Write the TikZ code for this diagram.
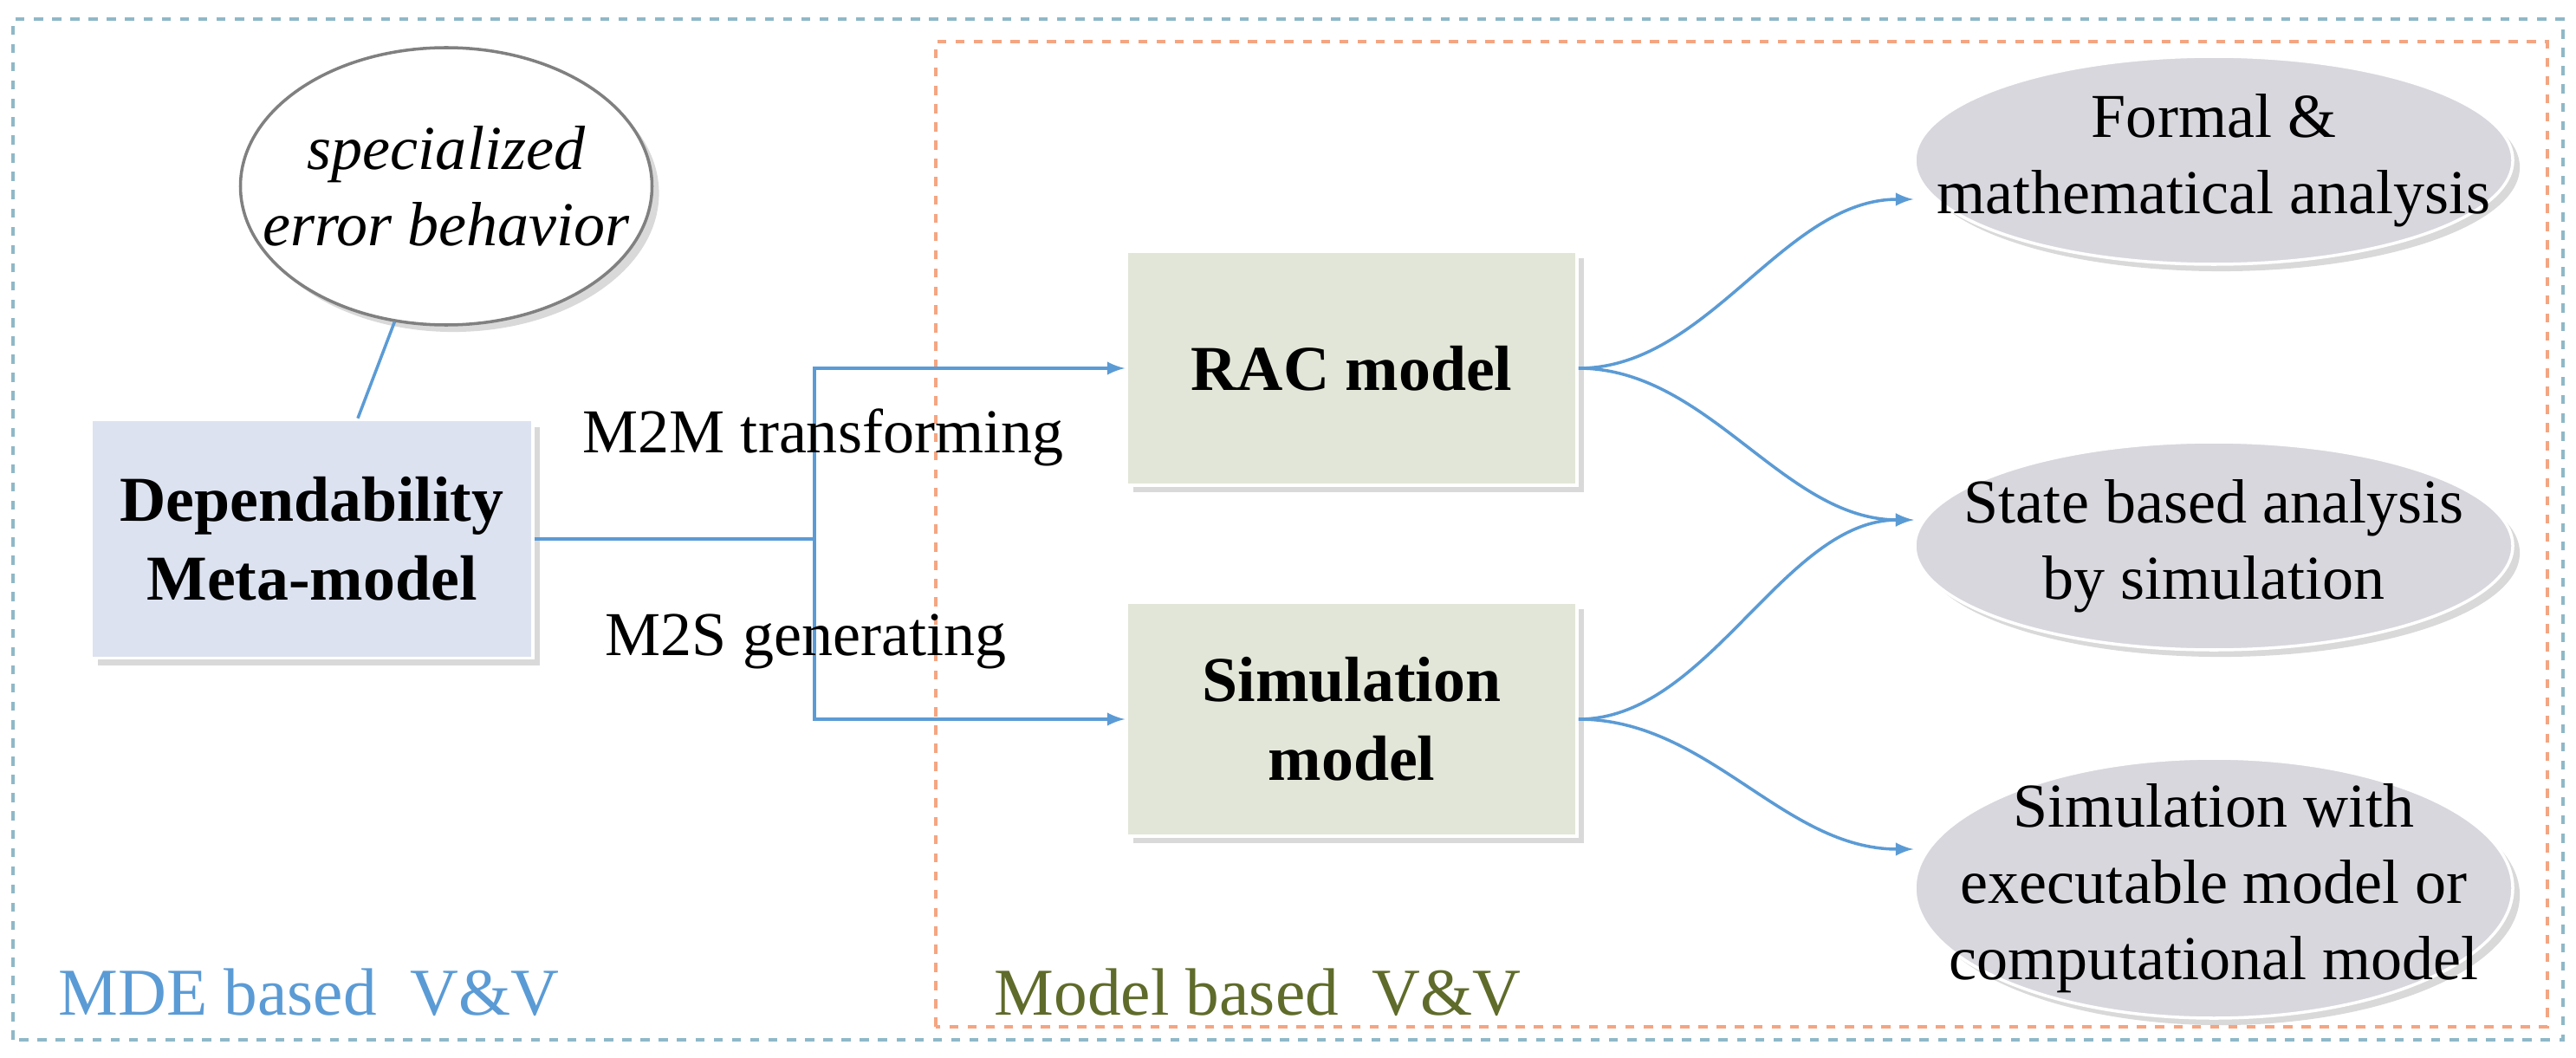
\documentclass[tikz,border=0pt]{standalone}
\usepackage{fontspec}
\setmainfont{Liberation Serif}
\usetikzlibrary{arrows,shapes.geometric,shadows}
\definecolor{lineblue}{HTML}{5B9BD5}
\definecolor{boxblue}{HTML}{DCE2F0}
\definecolor{boxgreen}{HTML}{E2E6D8}
\definecolor{ovalgray}{HTML}{D8D7DD}
\definecolor{frameblue}{HTML}{8FB8C8}
\definecolor{frameorange}{HTML}{F4A582}
\definecolor{olive}{HTML}{5F6B2A}
\begin{document}
\begin{tikzpicture}[x=1cm,y=1cm,->,>=latex,semithick,
	conn/.style={draw=lineblue,line width=1pt},
	model/.style={rectangle,draw=white,line width=1pt,minimum width=5.2cm,minimum height=2.7cm,
		align=center,font=\fontsize{21}{26}\selectfont\bfseries,drop shadow={opacity=0.3}},
	oval/.style={ellipse,draw=white,line width=1pt,fill=ovalgray,minimum width=6.9cm,minimum height=2.4cm,
		inner xsep=-0.9cm,inner ysep=-0.3cm,align=center,font=\fontsize{20.5}{25}\selectfont,drop shadow={opacity=0.3}}]
	\useasboundingbox (0,0) rectangle (29.73,12.2);
	% frames
	\draw[-,dashed,frameblue,line width=1pt] (0.15,0.2) rectangle (29.58,11.98);
	\draw[-,dashed,frameorange,line width=1pt] (10.8,0.35) rectangle (29.4,11.72);
	\node[text=lineblue,font=\fontsize{22}{26}\selectfont,anchor=west] (mde) at (0.55,0.75) {MDE based~~V\&V};
	\node[text=olive,font=\fontsize{22}{26}\selectfont,anchor=west] (mb) at (11.35,0.75) {Model based~~V\&V};

	% nodes
	\node[model,fill=boxblue,minimum width=5.1cm,minimum height=2.75cm] (dep) at (3.6,5.98) {Dependability\\Meta-model};
	\node[oval,fill=white,draw=gray,minimum width=4.75cm,minimum height=3.2cm,font=\fontsize{20.5}{25}\selectfont\itshape] (err) at (5.15,10.05) {specialized\\error behavior};
	\node[model,fill=boxgreen] (rac) at (15.6,7.95) {RAC model};
	\node[model,fill=boxgreen] (sim) at (15.6,3.9) {Simulation\\model};
	\node[oval] (formal) at (25.55,10.35) {Formal \&\\mathematical analysis};
	\node[oval] (state) at (25.55,5.9) {State based analysis\\by simulation};
	\node[oval,minimum height=3cm] (exec) at (25.55,1.95) {Simulation with\\executable model or\\computational model};
	\coordinate (split) at (9.4,5.98);

	% connectors
	\draw[-,conn] (err) -- (dep);
	\draw[-,conn] (dep) -- (split);
	\draw[conn] (split) |- (rac.west);
	\draw[conn] (split) |- (sim.west);
	\node[font=\fontsize{20.5}{25}\selectfont] (m2m) at (9.5,7.15) {M2M transforming};
	\node[font=\fontsize{20.5}{25}\selectfont] (m2s) at (9.3,4.8) {M2S generating};
	\draw[conn] (rac.east) .. controls +(1.5,0) and +(-1.5,0) .. (formal.west |- 0,9.9);
	\draw[conn] (rac.east) .. controls +(1.5,0) and +(-1.5,0) .. (state.west |- 0,6.2);
	\draw[conn] (sim.east) .. controls +(1.5,0) and +(-1.5,0) .. (state.west |- 0,6.2);
	\draw[conn] (sim.east) .. controls +(1.5,0) and +(-1.5,0) .. (exec.west |- 0,2.4);
\end{tikzpicture}
\end{document}
